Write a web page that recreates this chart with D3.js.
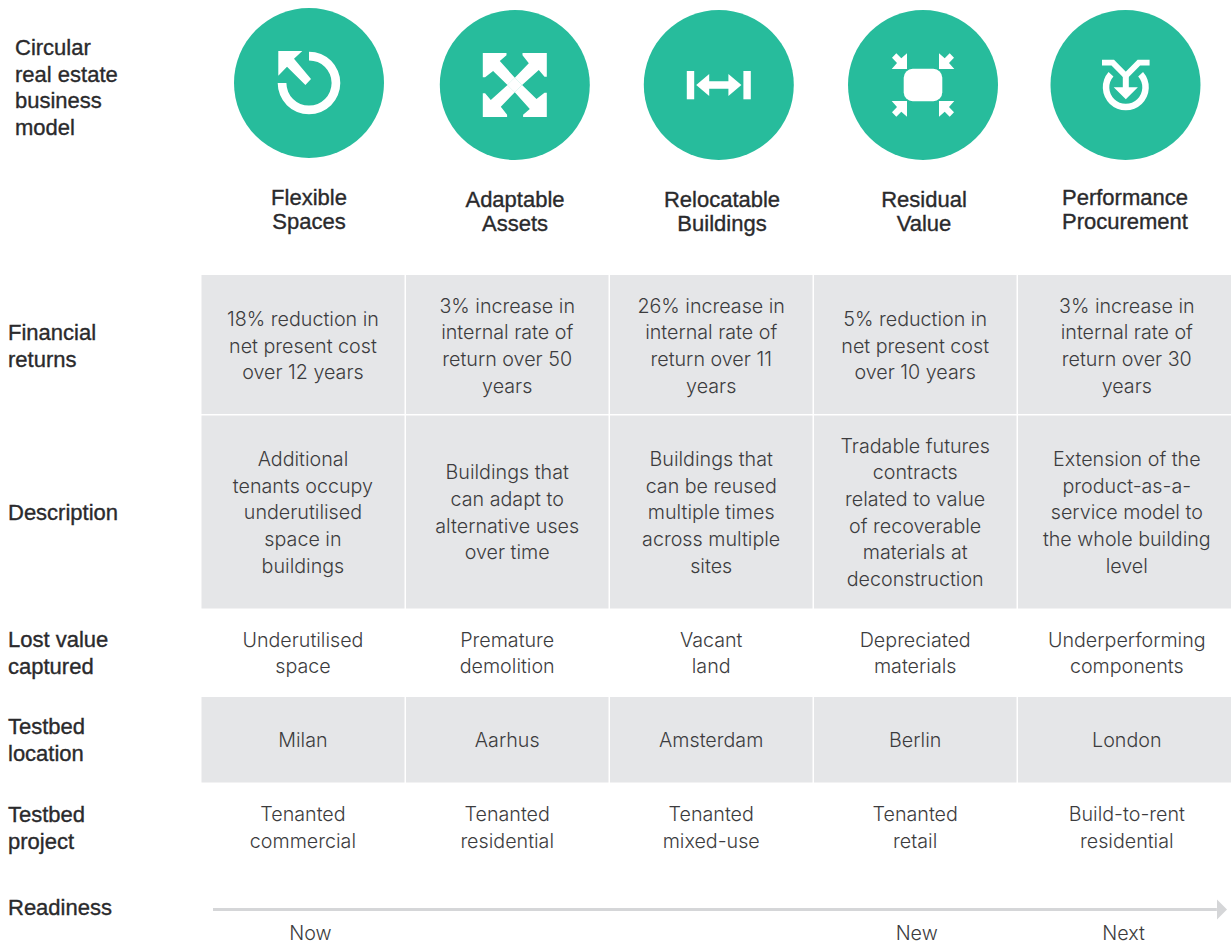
<!DOCTYPE html>
<html>
<head>
<meta charset="utf-8">
<script src="https://cdnjs.cloudflare.com/ajax/libs/d3/7.8.5/d3.min.js"></script>
<style>
  html, body { margin: 0; padding: 0; background: #fff; }
  svg { display: block; }
  .cell { font-family: "Inter", sans-serif; font-weight: 300; font-size: 19.7px; fill: #3c3c3e; }
  .head { font-family: "Liberation Sans", sans-serif; font-size: 22px; fill: #2a2a2c; stroke: #2a2a2c; stroke-width: 0.35px; }
</style>
</head>
<body>
<svg id="chart" width="1231" height="944"></svg>
<script>
const models = ["Flexible\nSpaces", "Adaptable\nAssets", "Relocatable\nBuildings", "Residual\nValue", "Performance\nProcurement"];
const financialReturns = [
  "18% reduction in\nnet present cost\nover 12 years",
  "3% increase in\ninternal rate of\nreturn over 50\nyears",
  "26% increase in\ninternal rate of\nreturn over 11\nyears",
  "5% reduction in\nnet present cost\nover 10 years",
  "3% increase in\ninternal rate of\nreturn over 30\nyears"
];
const descriptions = [
  "Additional\ntenants occupy\nunderutilised\nspace in\nbuildings",
  "Buildings that\ncan adapt to\nalternative uses\nover time",
  "Buildings that\ncan be reused\nmultiple times\nacross multiple\nsites",
  "Tradable futures\ncontracts\nrelated to value\nof recoverable\nmaterials at\ndeconstruction",
  "Extension of the\nproduct-as-a-\nservice model to\nthe whole building\nlevel"
];
const lostValue = ["Underutilised\nspace", "Premature\ndemolition", "Vacant\nland", "Depreciated\nmaterials", "Underperforming\ncomponents"];
const locations = ["Milan", "Aarhus", "Amsterdam", "Berlin", "London"];
const projects = ["Tenanted\ncommercial", "Tenanted\nresidential", "Tenanted\nmixed-use", "Tenanted\nretail", "Build-to-rent\nresidential"];
const rowLabels = ["Financial\nreturns", "Description", "Lost value\ncaptured", "Testbed\nlocation", "Testbed\nproject"];
const rowValues = [financialReturns, descriptions, lostValue, locations, projects];
const rowShaded = [true, true, false, true, false];
const titleLabel = ["Circular\nreal estate\nbusiness\nmodel"];
const readinessTitle = ["Readiness"];
const readinessLabels = ["Now", "New", "Next"];
const readinessValues = [9.6, 69.4, 89.8];

const svg = d3.select("#chart");
const lineHeight = 26.7;
const green = "#27bc9c";
const grey = "#e5e6e8";

// column edges are not quite even, the last one is wider
const colEdges = [201.5, 406, 610, 814, 1018, 1231];
const rowEdges = [275, 415.5, 608.5, 697, 782.5, 872];
const iconX = [309, 514.8, 718.8, 923, 1125.5];
const iconY = [83, 85, 85, 85, 85];
const headX = [309, 515, 722, 924, 1125];
const headY = [209.5, 211.5, 211.5, 211.5, 209.5];

const idx = d3.range(5);
const colStart = d3.scaleOrdinal(idx, colEdges.slice(0, 5));
const colEnd = d3.scaleOrdinal(idx, colEdges.slice(1));
const colMid = i => i === 4 ? 1126.8 : (colStart(i) + colEnd(i)) / 2 - 0.8;
const readinessX = d3.scaleLinear().domain([0, 100]).range([213, 1227]);

function multiline(sel, x, y, cls, anchor, spacing) {
  const step = spacing || lineHeight;
  const nudge = cls === "head" ? 7.9 : 7.3;
  sel.each(function(d, i) {
    const lines = d.split("\n");
    const t = d3.select(this).attr("class", cls).attr("text-anchor", anchor);
    t.selectAll("tspan").data(lines).join("tspan")
      .attr("x", x(d, i))
      .attr("y", (l, k) => y(d, i) + (k - (lines.length - 1) / 2) * step + nudge)
      .text(l => l);
  });
}

// grey cells
rowValues.forEach((vals, r) => {
  if (!rowShaded[r]) return;
  svg.append("g").selectAll("rect").data(idx).join("rect")
    .attr("x", i => colStart(i))
    .attr("y", rowEdges[r])
    .attr("width", i => colEnd(i) - colStart(i) - (i < 4 ? 1.5 : 0))
    .attr("height", rowEdges[r + 1] - rowEdges[r] - (r === 0 ? 1.5 : 0))
    .attr("fill", grey);
});

// cell text
rowValues.forEach((vals, r) => {
  const mid = (rowEdges[r] + rowEdges[r + 1]) / 2;
  svg.append("g").selectAll("text").data(vals).join("text")
    .call(multiline, (d, i) => colMid(i), () => mid, "cell", "middle");
});

// row labels
svg.append("g").selectAll("text").data(rowLabels).join("text")
  .call(multiline, () => 8, (d, i) => (rowEdges[i] + rowEdges[i + 1]) / 2, "head", "start");

svg.append("g").selectAll("text").data(titleLabel).join("text")
  .call(multiline, () => 15, () => 87, "head", "start");

// circles
svg.append("g").selectAll("circle").data(idx).join("circle")
  .attr("cx", i => iconX[i])
  .attr("cy", i => iconY[i])
  .attr("r", 75)
  .attr("fill", green);

// model names
svg.append("g").selectAll("text").data(models).join("text")
  .call(multiline, (d, i) => headX[i], (d, i) => headY[i], "head", "middle", 24);

// icons, drawn around each circle centre
const poly = d3.line().curve(d3.curveLinearClosed);
const icon = i => svg.append("g").attr("transform", `translate(${iconX[i]},${iconY[i]})`).attr("fill", "#fff");

// flexible spaces
const ic0 = icon(0);
ic0.append("path").attr("d", d3.arc()({ innerRadius: 22.6, outerRadius: 31.3, startAngle: 0, endAngle: Math.PI * 1.5 }));
ic0.append("path").attr("d", poly([[-30.7, -32], [-6.7, -32], [-15, -24.3], [2, -4], [-3.6, 2], [-22, -16.3], [-30.7, -7.3]]));

// adaptable assets
const ic1 = icon(1);
const quad = [[-32, -32], [-8.3, -32], [-8.3, -29.7], [-15, -24], [0, -7.3], [-7.3, 0], [-21.7, -14], [-29.7, -7.7], [-32, -7.7]];
[0, 90, 180, 270].forEach(a => {
  ic1.append("path").attr("d", poly(quad)).attr("transform", `rotate(${a})`);
});
ic1.append("path").attr("d", poly([[0, -7.5], [7.5, 0], [0, 7.5], [-7.5, 0]]));

// relocatable buildings
const ic2 = icon(2);
ic2.append("rect").attr("x", -32).attr("y", -14).attr("width", 7.4).attr("height", 28.3);
ic2.append("rect").attr("x", 24.6).attr("y", -14).attr("width", 7.4).attr("height", 28.3);
ic2.append("path").attr("d", poly([[-22.6, 0], [-9.6, -11], [-9.6, -3.8], [9.6, -3.8], [9.6, -11], [22.6, 0], [9.6, 11], [9.6, 3.8], [-9.6, 3.8], [-9.6, 11]]));

// residual value
const ic3 = icon(3);
ic3.append("rect").attr("x", -19.3).attr("y", -16.2).attr("width", 38.6).attr("height", 32.4).attr("rx", 9);
const corner = [[-16, -31.7], [-16, -16], [-31.3, -16], [-26, -22], [-31, -27.3], [-26.7, -31.7], [-21.7, -26.7]];
[[1, 1], [-1, 1], [1, -1], [-1, -1]].forEach(([sx, sy]) => {
  ic3.append("path").attr("d", poly(corner)).attr("transform", `scale(${sx},${sy})`);
});

// performance procurement
const ic4 = svg.append("g").attr("transform", `translate(${iconX[4] + 0.3},87.3)`).attr("fill", "#fff");
ic4.append("path").attr("d", d3.arc()({ innerRadius: 16.5, outerRadius: 23, startAngle: Math.PI * 0.27, endAngle: Math.PI * 1.73 }));
ic4.append("path").attr("d", poly([[-12.1, 0], [-3, 0], [-3, -14], [3, -14], [3, 0], [12.1, 0], [0, 12]]));
ic4.append("path")
  .attr("d", d3.line()([[-23.8, -24.6], [-13, -24.6], [0, -11.5], [13, -24.6], [23.8, -24.6]]))
  .attr("fill", "none").attr("stroke", "#fff").attr("stroke-width", 5.8);

// readiness arrow
svg.append("g").selectAll("text").data(readinessTitle).join("text")
  .call(multiline, () => 8, () => 907.5, "head", "start");
svg.append("line")
  .attr("x1", readinessX(0)).attr("x2", readinessX(99))
  .attr("y1", 909.5).attr("y2", 909.5)
  .attr("stroke", "#d5d6d8").attr("stroke-width", 3);
svg.append("path").attr("d", poly([[1217, 899.5], [1227, 909.5], [1217, 919.5]])).attr("fill", "#d5d6d8");
svg.append("g").selectAll("text").data(readinessLabels).join("text")
  .call(multiline, (d, i) => readinessX(readinessValues[i]), () => 932.5, "cell", "middle");
</script>
</body>
</html>
